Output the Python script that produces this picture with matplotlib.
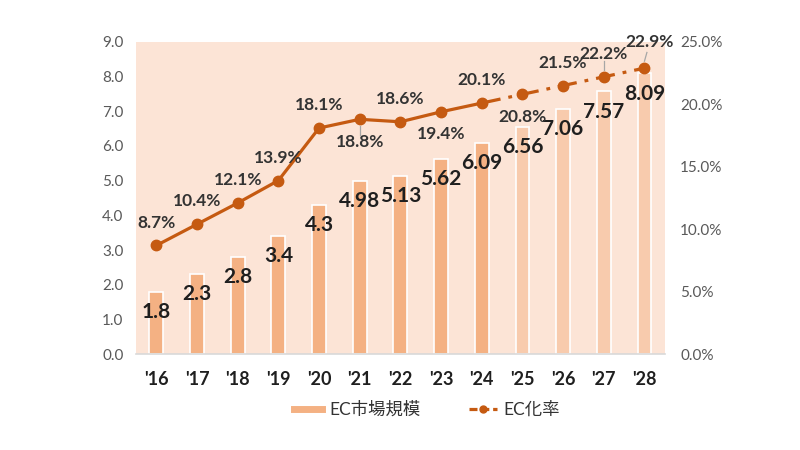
import matplotlib
matplotlib.use("Agg")
import matplotlib.pyplot as plt
from matplotlib.lines import Line2D

plt.rcParams['font.family'] = ['Lato', 'Noto Sans CJK JP', 'DejaVu Sans']

years = ["'16", "'17", "'18", "'19", "'20", "'21", "'22", "'23", "'24", "'25", "'26", "'27", "'28"]
market = [1.8, 2.3, 2.8, 3.4, 4.3, 4.98, 5.13, 5.62, 6.09, 6.56, 7.06, 7.57, 8.09]
market_labels = ["1.8", "2.3", "2.8", "3.4", "4.3", "4.98", "5.13", "5.62", "6.09", "6.56", "7.06", "7.57", "8.09"]
rate = [8.7, 10.4, 12.1, 13.9, 18.1, 18.8, 18.6, 19.4, 20.1, 20.8, 21.5, 22.2, 22.9]
rate_pos = ['a', 'a', 'a', 'a', 'a', 'b', 'a', 'b', 'a', 'b', 'a', 'a', 'a']
n_actual = 9  # '16..'24 actual, rest forecast

bar_c = '#F4B183'
bar_f = '#F8CBAD'
line_c = '#C55A11'
bg = '#FCE4D6'
txt = '#1F1F1F'
tick_c = '#595959'

fig = plt.figure(figsize=(8, 4.5), dpi=100)
ax = fig.add_axes([0.17, 0.213, 0.661, 0.694])
ax.set_facecolor(bg)
x = list(range(len(years)))
colors = [bar_c if i < n_actual else bar_f for i in x]
ax.bar(x, market, width=0.34, color=colors, edgecolor='white', linewidth=1.2, zorder=2)
ax.set_xlim(-0.5, len(years) - 0.5)
ax.set_ylim(0, 9)
ax.set_yticks([i for i in range(10)])
ax.set_yticklabels([f"{i:.1f}" for i in range(10)], color=tick_c, fontsize=11)
ax.set_xticks(x)
ax.set_xticklabels(years, fontsize=13, fontweight='bold', color=txt)
ax.tick_params(axis='y', length=0, pad=9)
ax.tick_params(axis='x', length=0, pad=12)
for s in ['top', 'right', 'left']:
    ax.spines[s].set_visible(False)
ax.spines['bottom'].set_color('#D9D9D9')
ax.spines['bottom'].set_linewidth(1.2)

for i, (v, lab) in enumerate(zip(market, market_labels)):
    ax.annotate(lab, (i, v), xytext=(0, -14.5), textcoords='offset points',
                ha='center', va='center', fontsize=15, fontweight='bold', color=txt, zorder=5)

ax2 = ax.twinx()
ax2.set_ylim(0, 25)
ax2.set_yticks([0, 5, 10, 15, 20, 25])
ax2.set_yticklabels([f"{v:.1f}%" for v in [0, 5, 10, 15, 20, 25]], color=tick_c, fontsize=11)
ax2.tick_params(axis='y', length=0, pad=11)
for s in ax2.spines.values():
    s.set_visible(False)

ax2.plot(x[:n_actual], rate[:n_actual], color=line_c, lw=2.3, zorder=3)
ax2.plot(x[n_actual - 1:], rate[n_actual - 1:], color=line_c, lw=2.3, zorder=3,
         linestyle=(0, (6, 2.5, 1.2, 2.5)))
ax2.plot(x, rate, linestyle='none', marker='o', markersize=7.5, color=line_c, zorder=4)

for i, (v, p) in enumerate(zip(rate, rate_pos)):
    dy = 16.5 if p == 'a' else -16
    if i == 12:
        dy = 18.5
    dx = 4 if i == 12 else 0
    ax2.annotate(f"{v:.1f}%", (i, v), xytext=(dx, dy), textcoords='offset points',
                 ha='center', va='center', fontsize=12.5, fontweight='bold', color='#333333', zorder=5)
    if i in (5, 11, 12):
        sgn = 1 if p == 'a' else -1
        ax2.plot([i, i + (0.06 if i == 12 else 0)], [v + sgn * 0.55, v + sgn * 1.25],
                 color='#A6A6A6', lw=0.9, zorder=3)

handles = [Line2D([0], [0], color=bar_c, lw=5),
           Line2D([0], [0], color=line_c, lw=2.3, linestyle=(0, (2.5, 1.2)), marker='o', markersize=5)]
fig.legend(handles, ['EC市場規模', 'EC化率'], loc='center', bbox_to_anchor=(0.534, 0.089),
           ncol=2, frameon=False, fontsize=12.5, handlelength=1.6, handletextpad=0.4,
           columnspacing=2.8, labelcolor='#333333')

fig.savefig('out.png', dpi=100, facecolor='white')
